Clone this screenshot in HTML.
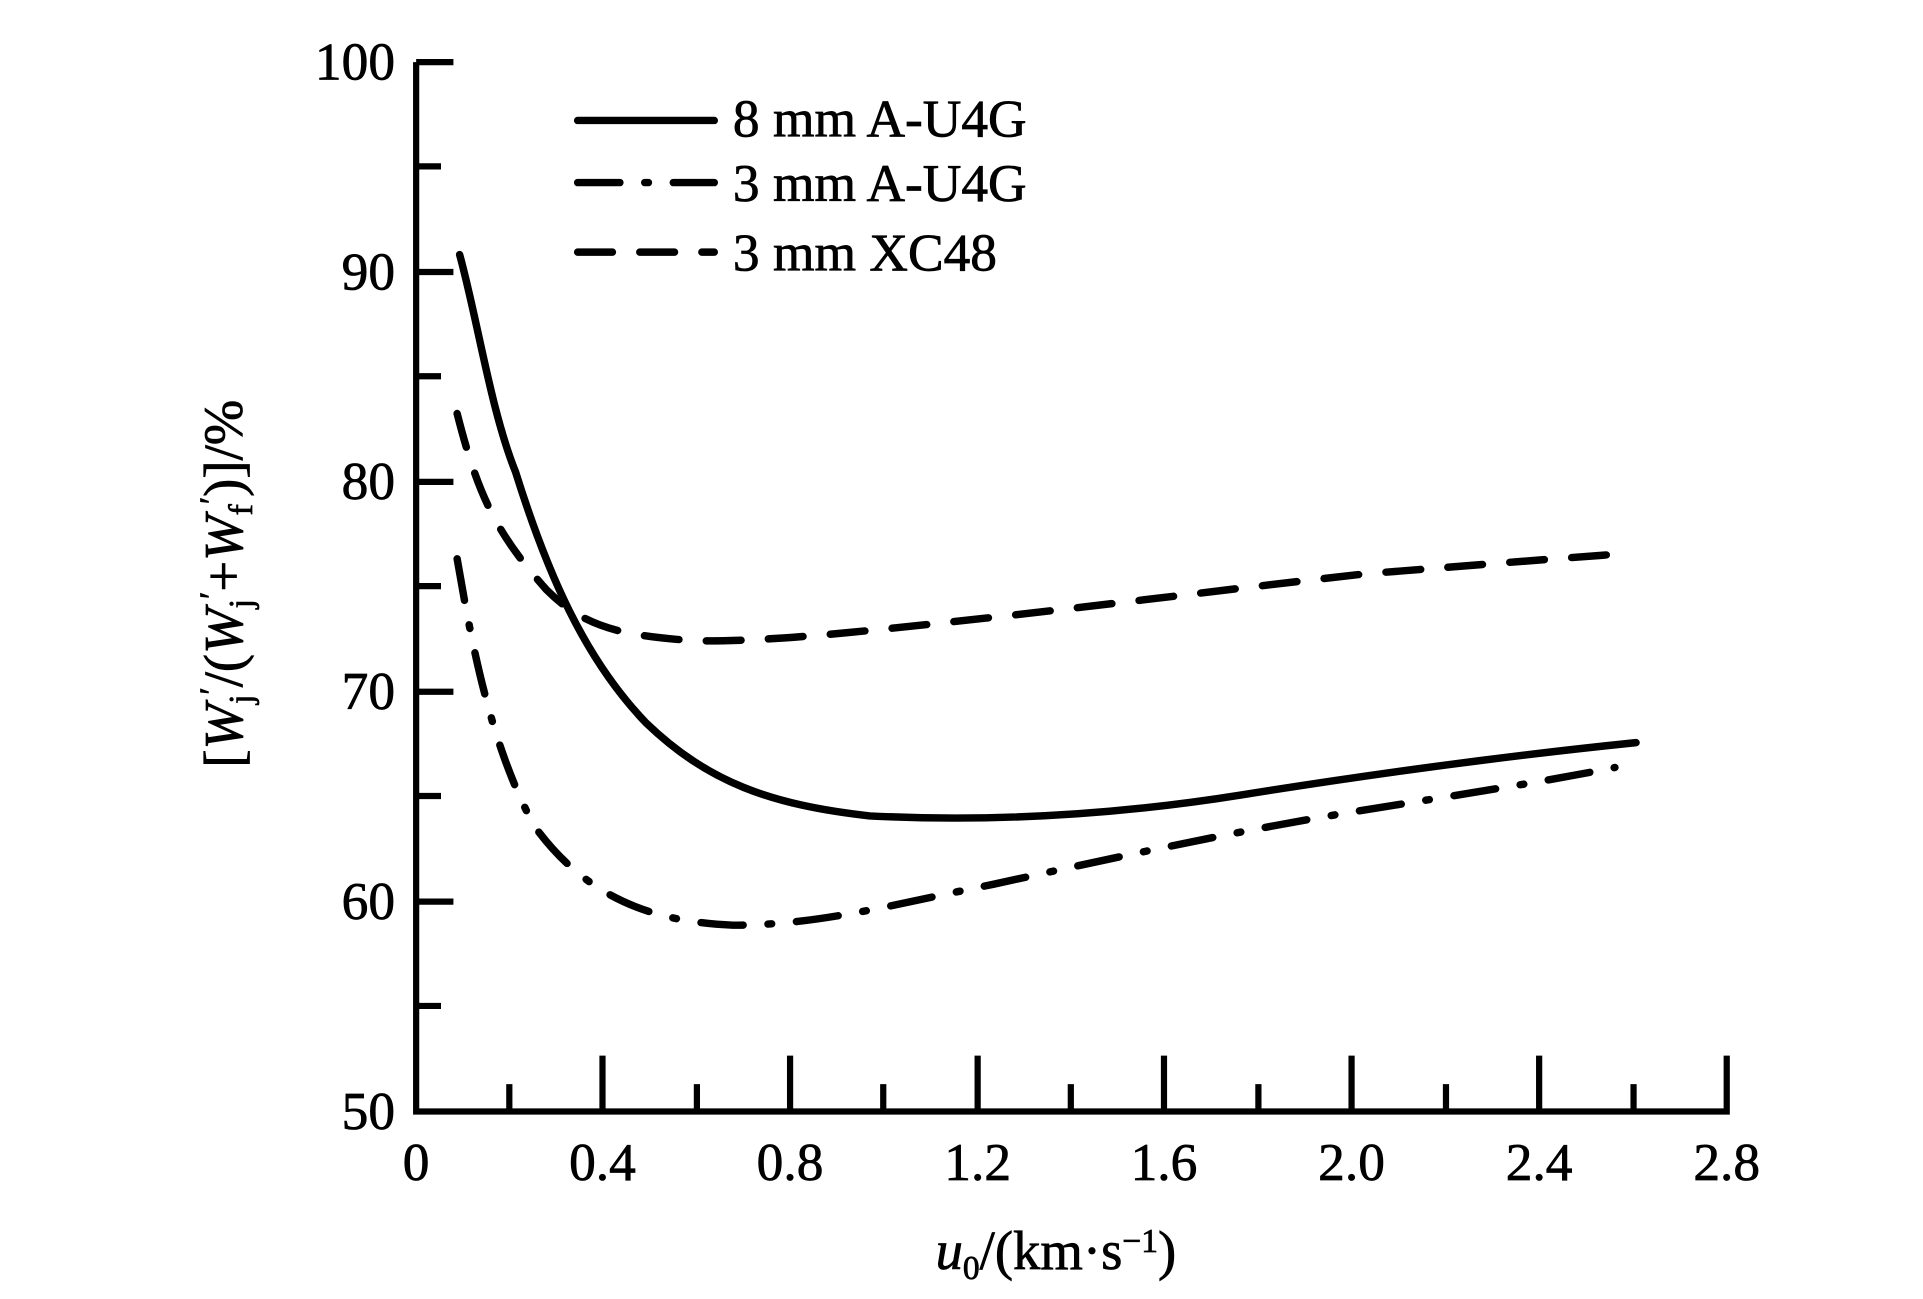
<!DOCTYPE html>
<html><head><style>body{margin:0;background:#fff}svg{display:block}</style></head><body>
<svg width="1923" height="1299" viewBox="0 0 1548 1046" preserveAspectRatio="none" xmlns="http://www.w3.org/2000/svg" font-family="Liberation Serif, serif" fill="#000">
<rect width="1548" height="1046" fill="#fff"/>
<g stroke="#000" stroke-width="5" fill="none">
<path d="M335,50 V895 H1390 V850"/>
<path d="M335,50 h30 M335,219 h30 M335,388 h30 M335,557 h30 M335,726 h30"/>
<path d="M335,134 h20 M335,303 h20 M335,472 h20 M335,641 h20 M335,810 h20"/>
<path d="M485,895 v-45 M636,895 v-45 M787,895 v-45 M937,895 v-45 M1088,895 v-45 M1239,895 v-45"/>
<path d="M410,895 v-22 M561,895 v-22 M711,895 v-22 M862,895 v-22 M1013,895 v-22 M1164,895 v-22 M1315,895 v-22"/>
</g>
<g stroke="#000" stroke-width="6" fill="none" stroke-linecap="round">
<path d="M370,205 C385,260 395,330 415,380 C440,460 470,530 520,582 C570,630 620,648 700,657 C800,662 900,656 1000,640 C1100,624 1200,610 1317,598"/>
<path d="M368,450 C380,520 395,600 430,665 C470,720 520,742 590,745 C660,745 720,728 800,712 C900,690 1000,668 1100,652 C1200,636 1250,628 1300,618" stroke-dasharray="34,20,3,20"/>
<path d="M368,333 C385,400 400,430 440,475 C470,505 500,512 560,516 C620,517 700,508 800,497 C900,486 1000,473 1100,462 C1200,454 1250,450 1305,446" stroke-dasharray="28,22"/>
<path d="M465,97 H575"/>
<path d="M465,147 H575" stroke-dasharray="34,20,3,20"/>
<path d="M465,203 H575" stroke-dasharray="28,22"/>
</g>
<g font-size="43" stroke="#000" stroke-width="0.6">
<text x="590" y="110">8 mm A-U4G</text>
<text x="590" y="162">3 mm A-U4G</text>
<text x="590" y="218">3 mm XC48</text>
</g>
<g font-size="43" text-anchor="end" stroke="#000" stroke-width="0.6">
<text x="318" y="64">100</text><text x="318" y="233">90</text><text x="318" y="402">80</text>
<text x="318" y="571">70</text><text x="318" y="740">60</text><text x="318" y="909">50</text>
</g>
<g font-size="43" text-anchor="middle" stroke="#000" stroke-width="0.6">
<text x="335" y="950">0</text><text x="485" y="950">0.4</text><text x="636" y="950">0.8</text>
<text x="787" y="950">1.2</text><text x="937" y="950">1.6</text><text x="1088" y="950">2.0</text>
<text x="1239" y="950">2.4</text><text x="1390" y="950">2.8</text>
<text x="850" y="1022" font-size="44"><tspan font-style="italic">u</tspan><tspan font-size="27" dy="8">0</tspan><tspan dy="-8">/(km·s</tspan><tspan font-size="27" dy="-14">−1</tspan><tspan dy="14">)</tspan></text>
</g>
<text transform="translate(195,470) rotate(-90)" text-anchor="middle" font-size="44" stroke="#000" stroke-width="0.6">[<tspan font-style="italic">W</tspan><tspan font-size="27" dy="8">j</tspan><tspan font-size="27" dy="-24">′</tspan><tspan dy="16">/(</tspan><tspan font-style="italic">W</tspan><tspan font-size="27" dy="8">j</tspan><tspan font-size="27" dy="-24">′</tspan><tspan dy="16">+</tspan><tspan font-style="italic">W</tspan><tspan font-size="27" dy="8">f</tspan><tspan font-size="27" dy="-24">′</tspan><tspan dy="16">)]/%</tspan></text>
</svg>
</body></html>
